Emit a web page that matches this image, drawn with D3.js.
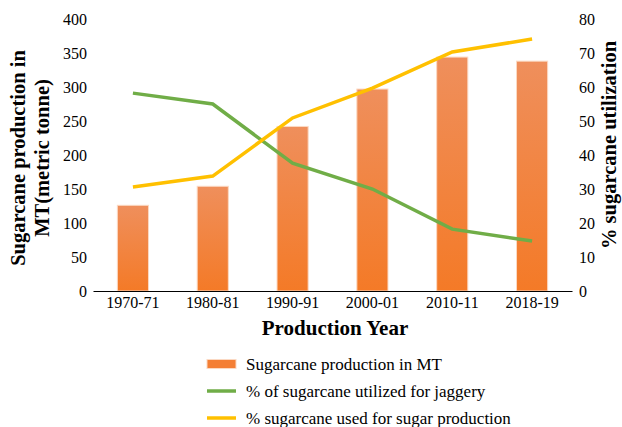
<!DOCTYPE html>
<html>
<head>
<meta charset="utf-8">
<script src="https://cdn.jsdelivr.net/npm/d3@7"></script>
<style>
  body { margin: 0; background: #fff; }
</style>
</head>
<body>
<div id="chart"></div>
<script>
// data
let years = ["1970-71", "1980-81", "1990-91", "2000-01", "2010-11", "2018-19"];
let production = [126, 154, 242, 297, 344, 338];
let jaggery = [58.2, 55.0, 37.6, 30.0, 18.2, 14.7];
let sugar = [30.6, 33.8, 50.9, 59.7, 70.3, 74.1];
let leftTicks = [0, 50, 100, 150, 200, 250, 300, 350, 400];
let rightTicks = [0, 10, 20, 30, 40, 50, 60, 70, 80];

let serif = "'Liberation Serif', 'Times New Roman', 'DejaVu Serif', serif";

let width = 622, height = 427;
let margin = {top: 19, left: 93, right: 50, bottom: 136};
let w = width - margin.left - margin.right;
let h = height - margin.top - margin.bottom;

let svg = d3.select("#chart").append("svg")
    .attr("width", width)
    .attr("height", height)
    .style("font-family", serif);

let defs = svg.append("defs");
let grad = defs.append("linearGradient")
    .attr("id", "barGrad")
    .attr("x1", 0).attr("y1", 0).attr("x2", 0).attr("y2", 1);
grad.append("stop").attr("offset", "0%").attr("stop-color", "#ef8f5c");
grad.append("stop").attr("offset", "100%").attr("stop-color", "#f47a27");

let g = svg.append("g")
    .attr("transform", "translate(" + margin.left + "," + margin.top + ")");

let x = d3.scaleBand()
    .domain(years)
    .range([0, w])
    .paddingInner(0.61)
    .paddingOuter(0.305);
let xc = d3.scalePoint()
    .domain(years)
    .range([0, w])
    .padding(0.5);
let yL = d3.scaleLinear().domain([0, 400]).range([h, 0]);
let yR = d3.scaleLinear().domain([0, 80]).range([h, 0]);

// bars
g.selectAll("rect.bar")
    .data(production)
    .enter()
    .append("rect")
    .attr("class", "bar")
    .attr("x", (d, i) => x(years[i]))
    .attr("y", d => yL(d))
    .attr("width", x.bandwidth())
    .attr("height", d => h - yL(d))
    .attr("fill", "url(#barGrad)")
    .attr("stroke", "#fbd9c3")
    .attr("stroke-width", 1);

// lines
let line = d3.line()
    .x((d, i) => xc(years[i]))
    .y(d => yR(d));

g.append("path")
    .datum(jaggery)
    .attr("d", line)
    .attr("fill", "none")
    .attr("stroke", "#70ad47")
    .attr("stroke-width", 3.5);

g.append("path")
    .datum(sugar)
    .attr("d", line)
    .attr("fill", "none")
    .attr("stroke", "#ffc000")
    .attr("stroke-width", 3.5);

// axes
function styleTicks(sel) {
    sel.attr("font-family", null).attr("font-size", null);
    sel.selectAll("text")
        .style("font-family", serif)
        .style("font-size", "16px")
        .attr("fill", "#000");
}

let gx = g.append("g")
    .attr("transform", "translate(0," + h + ")")
    .call(d3.axisBottom(x).tickSize(0).tickPadding(6));
gx.select(".domain").attr("stroke", "#000").attr("stroke-width", 1.2);
styleTicks(gx);

let gl = g.append("g")
    .call(d3.axisLeft(yL).tickValues(leftTicks).tickSize(0).tickPadding(6));
gl.select(".domain").remove();
styleTicks(gl);

let gr = g.append("g")
    .attr("transform", "translate(" + w + ",0)")
    .call(d3.axisRight(yR).tickValues(rightTicks).tickSize(0).tickPadding(7));
gr.select(".domain").remove();
styleTicks(gr);

// axis titles
let lt = svg.append("text")
    .attr("transform", "translate(25,158) rotate(-90)")
    .attr("text-anchor", "middle")
    .style("font-family", serif)
    .style("font-size", "20.5px")
    .style("font-weight", "bold");
lt.append("tspan").attr("x", 0).attr("dy", 0).text("Sugarcane production in");
lt.append("tspan").attr("x", 0).attr("dy", 24).text("MT(metric tonne)");

svg.append("text")
    .attr("transform", "translate(616,145) rotate(-90)")
    .attr("text-anchor", "middle")
    .style("font-family", serif)
    .style("font-size", "20.5px")
    .style("font-weight", "bold")
    .text("% sugarcane utilization");

svg.append("text")
    .attr("x", 335)
    .attr("y", 335)
    .attr("text-anchor", "middle")
    .style("font-family", serif)
    .style("font-size", "21px")
    .style("font-weight", "bold")
    .text("Production Year");

// legend
let legendItems = [
    {label: "Sugarcane production in MT", type: "bar", color: "#f47f35"},
    {label: "% of sugarcane utilized for jaggery", type: "line", color: "#70ad47"},
    {label: "% sugarcane used for sugar production", type: "line", color: "#ffc000"}
];
let lg = svg.append("g").attr("transform", "translate(207,364)");
let items = lg.selectAll("g.item")
    .data(legendItems)
    .enter()
    .append("g")
    .attr("class", "item")
    .attr("transform", (d, i) => "translate(0," + (i * 27) + ")");
items.filter(d => d.type == "bar").append("rect")
    .attr("x", 0).attr("y", -4.5).attr("width", 29).attr("height", 9)
    .attr("fill", d => d.color)
    .attr("stroke", "#fbd9c3");
items.filter(d => d.type == "line").append("line")
    .attr("x1", 0).attr("x2", 29).attr("y1", 0).attr("y2", 0)
    .attr("stroke", d => d.color)
    .attr("stroke-width", 3.5);
items.append("text")
    .attr("x", 39)
    .attr("y", 6)
    .style("font-family", serif)
    .style("font-size", "17px")
    .text(d => d.label);
</script>
</body>
</html>
